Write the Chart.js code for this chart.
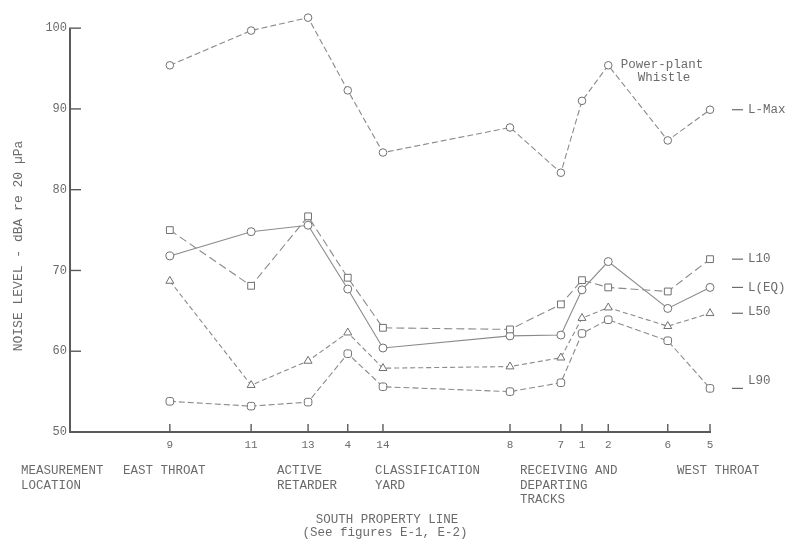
<!DOCTYPE html>
<html>
<head>
<meta charset="utf-8">
<script src="https://cdn.jsdelivr.net/npm/chart.js@4.4.1/dist/chart.umd.min.js"></script>
<style>
  html, body { margin: 0; padding: 0; background: #ffffff; }
  canvas { display: block; }
</style>
</head>
<body>
<canvas id="noise" width="788" height="539"></canvas>
<script>
// Measurement stations along the south property line, west of the east throat
const stations = ['9', '11', '13', '4', '14', '8', '7', '1', '2', '6', '5'];
// Relative distance of each station along the property line
const stationDistance = [15.6, 28.3, 37.2, 43.4, 48.9, 68.75, 76.7, 80.0, 84.1, 93.4, 100];

// Noise levels, dBA
const lMax = [95.4, 99.7, 101.3, 92.3, 84.6, 87.7, 82.1, 91.0, 95.4, 86.1, 89.9];
const l10  = [75.0, 68.1, 76.7, 69.1, 62.9, 62.7, 65.8, 68.8, 67.9, 67.4, 71.4];
const lEq  = [71.8, 74.8, 75.6, 67.7, 60.4, 61.9, 62.0, 67.6, 71.1, 65.3, 67.9];
const l50  = [68.7, 55.8, 58.8, 62.3, 57.9, 58.1, 59.2, 64.1, 65.4, 63.1, 64.7];
const l90  = [53.8, 53.2, 53.7, 59.7, 55.6, 55.0, 56.1, 62.2, 63.9, 61.3, 55.4];

const seriesNames = ['L-Max', 'L10', 'L(EQ)', 'L50', 'L90'];
const yTicks = [50, 60, 70, 80, 90, 100];

const FONT = '"Liberation Mono", "DejaVu Sans Mono", monospace';
const INK = '#6b6b6b';
const LINE = '#8a8a8a';
const AXIS = '#5a5a5a';

function series(label, values, dash, pointStyle, radius) {
  return {
    label,
    data: values.map((v, i) => ({ x: stationDistance[i], y: v })),
    borderColor: LINE,
    borderWidth: 1.1,
    borderDash: dash,
    pointStyle,
    pointRadius: radius,
    pointBorderWidth: 1,
    pointBorderColor: '#707070',
    pointBackgroundColor: '#ffffff',
    tension: 0,
    clip: false
  };
}

// Axis lines and ticks, right-hand series names and the location captions
const annotate = {
  id: 'annotate',
  afterDraw(chart) {
    const { ctx, chartArea, scales: { x, y } } = chart;
    const top = y.getPixelForValue(yTicks[yTicks.length - 1]);
    const bottom = y.getPixelForValue(yTicks[0]);
    ctx.save();

    // vertical axis runs from 50 to 100 dBA
    ctx.strokeStyle = AXIS;
    ctx.lineWidth = 2;
    ctx.beginPath();
    ctx.moveTo(chartArea.left, top);
    ctx.lineTo(chartArea.left, bottom + 1);
    ctx.stroke();

    // tick marks
    ctx.lineWidth = 1.4;
    stationDistance.forEach(d => {
      const px = x.getPixelForValue(d);
      ctx.beginPath();
      ctx.moveTo(px, bottom - 8);
      ctx.lineTo(px, bottom + 1);
      ctx.stroke();
    });
    yTicks.forEach(v => {
      const py = y.getPixelForValue(v);
      ctx.beginPath();
      ctx.moveTo(chartArea.left - 1, py);
      ctx.lineTo(chartArea.left + 11, py);
      ctx.stroke();
    });

    ctx.fillStyle = INK;
    ctx.font = '12.5px ' + FONT;

    // y-axis title
    ctx.save();
    ctx.translate(19, 246);
    ctx.rotate(-Math.PI / 2);
    ctx.textAlign = 'center';
    ctx.textBaseline = 'middle';
    ctx.font = '13px ' + FONT;
    ctx.fillText('NOISE LEVEL - dBA re 20 \u00b5Pa', 0, 0);
    ctx.restore();

    // series names at the right end of each line
    ctx.textAlign = 'left';
    ctx.textBaseline = 'middle';
    const lastIdx = stationDistance.length - 1;
    const textShift = [0, 0, 0, -2, -8];
    [lMax, l10, lEq, l50, l90].forEach((vals, k) => {
      const py = y.getPixelForValue(vals[lastIdx]);
      ctx.strokeStyle = INK;
      ctx.lineWidth = 1.2;
      ctx.beginPath();
      ctx.moveTo(732, py);
      ctx.lineTo(743, py);
      ctx.stroke();
      ctx.fillText(seriesNames[k], 748, py + textShift[k]);
    });

    // note at the station 2 maximum
    ctx.textAlign = 'center';
    ctx.fillText('Power-plant', 662, 65);
    ctx.fillText('Whistle', 664, 78);

    // location captions under the axis
    ctx.textAlign = 'left';
    const captions = [
      [21, ['MEASUREMENT', 'LOCATION']],
      [123, ['EAST THROAT']],
      [277, ['ACTIVE', 'RETARDER']],
      [375, ['CLASSIFICATION', 'YARD']],
      [520, ['RECEIVING AND', 'DEPARTING', 'TRACKS']],
      [677, ['WEST THROAT']]
    ];
    captions.forEach(([px, lines]) => {
      lines.forEach((t, i) => ctx.fillText(t, px, 471 + i * 14.5));
    });

    ctx.textAlign = 'center';
    ctx.fillText('SOUTH PROPERTY LINE', 387, 520);
    ctx.fillText('(See figures E-1, E-2)', 385, 533);

    ctx.restore();
  }
};

new Chart(document.getElementById('noise'), {
  type: 'line',
  data: {
    datasets: [
      series(seriesNames[0], lMax, [6, 3], 'circle', 3.8),
      series(seriesNames[1], l10, [8, 4], 'rect', 4.8),
      series(seriesNames[2], lEq, [], 'circle', 4),
      series(seriesNames[3], l50, [5, 3], 'triangle', 4.6),
      series(seriesNames[4], l90, [6, 3], 'rectRounded', 4.4)
    ]
  },
  options: {
    responsive: false,
    animation: false,
    layout: { padding: { top: 12, right: 78, left: 0, bottom: 0 } },
    plugins: {
      legend: { display: false },
      tooltip: { enabled: false }
    },
    scales: {
      x: {
        type: 'linear',
        min: 0,
        max: 100,
        afterFit(scale) { scale.height = 107; },
        afterBuildTicks(scale) {
          scale.ticks = stationDistance.map(v => ({ value: v }));
        },
        grid: { display: true, drawOnChartArea: false, drawTicks: false },
        border: { display: true, color: AXIS, width: 2 },
        ticks: {
          autoSkip: false,
          maxRotation: 0,
          padding: 6,
          color: INK,
          font: { family: FONT, size: 11 },
          callback(value) {
            const i = stationDistance.indexOf(value);
            return i >= 0 ? stations[i] : '';
          }
        }
      },
      y: {
        type: 'linear',
        min: 50,
        max: 102,
        afterFit(scale) { scale.width = 70; },
        afterBuildTicks(scale) {
          scale.ticks = yTicks.map(v => ({ value: v }));
        },
        grid: { display: true, drawOnChartArea: false, drawTicks: false },
        border: { display: false },
        ticks: {
          padding: 3,
          color: INK,
          font: { family: FONT, size: 12 }
        }
      }
    }
  },
  plugins: [annotate]
});
</script>
</body>
</html>
